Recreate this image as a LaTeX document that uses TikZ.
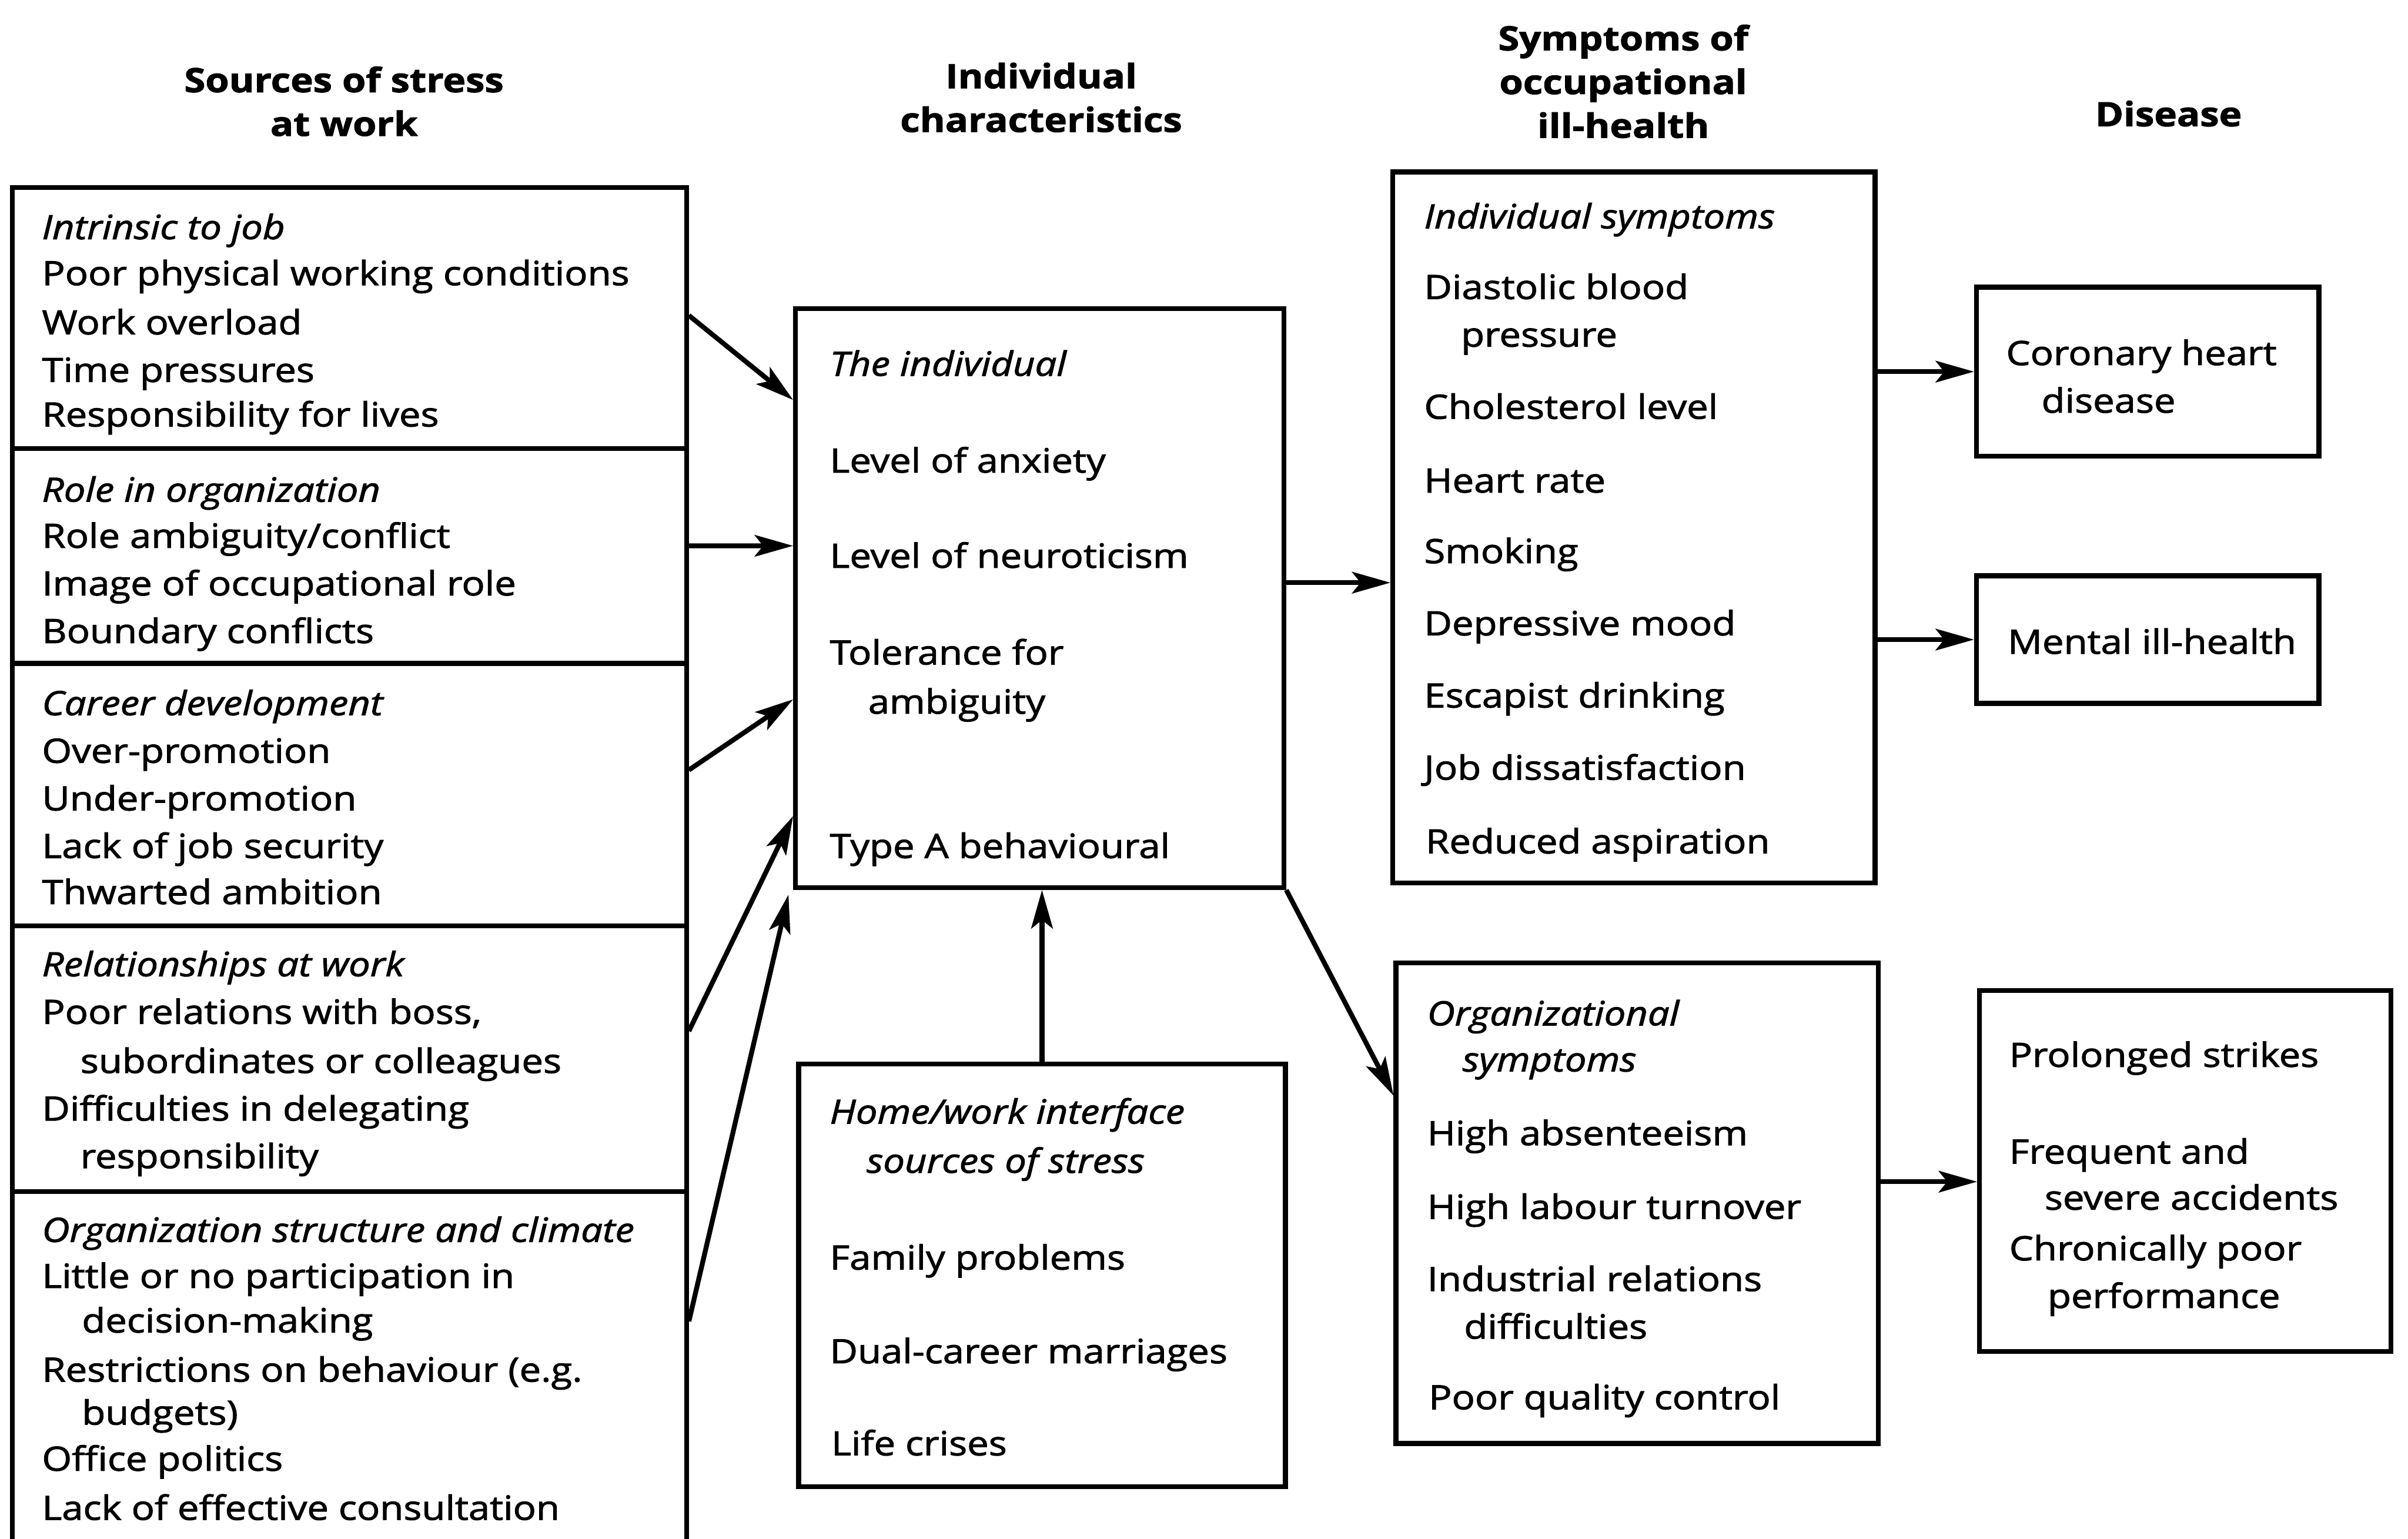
\documentclass[tikz,border=0pt]{standalone}
\usepackage{fontspec}
\setmainfont{Open Sans}[FakeStretch=1.145, FakeBold=1.8]
\usetikzlibrary{arrows.meta,calc,fit}
\newcounter{tc}
\newcommand\tl[3]{\stepcounter{tc}\node[txt] (t\arabic{tc}) at (#1,#2) {#3};}
\newcommand\bx[5]{\node[box, fit={(#2,#3)(#4,#5)}] (#1) {};}
\tikzset{
  txt/.style={anchor=mid west, inner sep=0pt, yshift=-0.06cm, font=\fontsize{12.4}{15}\selectfont},
  hdr/.style={align=center, inner sep=0pt, font=\fontsize{12.4}{16.2}\selectfont\bfseries},
  box/.style={draw, line width=1.8pt, inner sep=0pt},
  arr/.style={line width=1.8pt, -{Stealth[length=5mm,width=2.8mm,inset=1.1mm]}}
}
\begin{document}
\begin{tikzpicture}[x=0.02cm,y=-0.02cm]
\useasboundingbox (0,0) rectangle (1568,1002);
% headers
\node[hdr] (h1) at (224,66) {Sources of stress\\at work};
\node[hdr] (h2) at (678,63.5) {Individual\\characteristics};
\node[hdr] (h3) at (1057,53) {Symptoms of\\occupational\\ill-health};
\node[hdr] (h4) at (1412,74) {Disease};
% boxes
\bx{s1}{8}{122}{447}{292}
\bx{s2}{8}{292}{447}{432}
\bx{s3}{8}{432}{447}{603}
\bx{s4}{8}{603}{447}{776}
\bx{s5}{8}{776}{447}{1005}
\bx{B}{518}{201}{836}{578}
\bx{C}{520}{693}{837}{968}
\bx{D}{907}{112}{1221}{575}
\bx{E}{909}{627}{1223}{940}
\bx{F}{1287}{187}{1510}{297}
\bx{G}{1287}{375}{1510}{458}
\bx{H}{1289}{645}{1557}{880}
% left texts
\tl{27}{148}{\itshape Intrinsic to job}
\tl{27}{178}{Poor physical working conditions}
\tl{27}{210}{Work overload}
\tl{27}{241}{Time pressures}
\tl{27}{270}{Responsibility for lives}
\tl{27}{319}{\itshape Role in organization}
\tl{27}{349}{Role ambiguity/conflict}
\tl{27}{380}{Image of occupational role}
\tl{27}{411}{Boundary conflicts}
\tl{27}{458}{\itshape Career development}
\tl{27}{489}{Over-promotion}
\tl{27}{520}{Under-promotion}
\tl{27}{551}{Lack of job security}
\tl{27}{581}{Thwarted ambition}
\tl{27}{628}{\itshape Relationships at work}
\tl{27}{659}{Poor relations with boss,}
\tl{52}{691}{subordinates or colleagues}
\tl{27}{722}{Difficulties in delegating}
\tl{52}{753}{responsibility}
\tl{27}{801}{\itshape Organization structure and climate}
\tl{27}{831}{Little or no participation in}
\tl{53}{860}{decision-making}
\tl{27}{892}{Restrictions on behaviour (e.g.}
\tl{53}{920}{budgets)}
\tl{27}{950}{Office politics}
\tl{27}{982}{Lack of effective consultation}
% individual
\tl{540}{237}{\itshape The individual}
\tl{540}{300}{Level of anxiety}
\tl{540}{362}{Level of neuroticism}
\tl{540}{425}{Tolerance for}
\tl{565}{457}{ambiguity}
\tl{540}{551}{Type A behavioural}
% home/work
\tl{540}{724}{\itshape Home/work interface}
\tl{564}{756}{\itshape sources of stress}
\tl{540}{819}{Family problems}
\tl{540}{880}{Dual-career marriages}
\tl{541}{940}{Life crises}
% individual symptoms
\tl{927}{141}{\itshape Individual symptoms}
\tl{927}{187}{Diastolic blood}
\tl{951}{218}{pressure}
\tl{927}{265}{Cholesterol level}
\tl{927}{313}{Heart rate}
\tl{927}{359}{Smoking}
\tl{927}{406}{Depressive mood}
\tl{927}{453}{Escapist drinking}
\tl{927}{500}{Job dissatisfaction}
\tl{928}{548}{Reduced aspiration}
% organizational symptoms
\tl{929}{660}{\itshape Organizational}
\tl{952}{690}{\itshape symptoms}
\tl{929}{738}{High absenteeism}
\tl{929}{786}{High labour turnover}
\tl{929}{833}{Industrial relations}
\tl{953}{864}{difficulties}
\tl{930}{910}{Poor quality control}
% disease
\tl{1306}{230}{Coronary heart}
\tl{1329}{261}{disease}
\tl{1307}{418}{Mental ill-health}
\tl{1308}{687}{Prolonged strikes}
\tl{1308}{750}{Frequent and}
\tl{1331}{780}{severe accidents}
\tl{1308}{813}{Chronically poor}
\tl{1333}{844}{performance}
% arrows
\draw[arr] ($(s1.north east)+(0,85)$) -- ($(B.north west)+(0,61)$);
\draw[arr] ($(s2.north east)+(0,65)$) -- ($(B.north west)+(0,156)$);
\draw[arr] ($(s3.north east)+(0,71)$) -- ($(B.north west)+(0,256)$);
\draw[arr] ($(s4.north east)+(0,70)$) -- ($(B.north west)+(0,332)$);
\draw[arr] ($(s5.north east)+(0,86)$) -- ($(B.south west)+(-3,3)$);
\draw[arr] (C.north) -- (C.north |- B.south);
\draw[arr] ($(B.north east)+(0,180)$) -- ($(D.north west)+(0,269)$);
\draw[arr] (B.south east) -- ($(E.north west)+(0,88)$);
\draw[arr] (D.east |- F.west) -- (F.west);
\draw[arr] (D.east |- G.west) -- (G.west);
\coordinate (hin) at ($(H.west)+(0,7)$);
\draw[arr] (E.east |- hin) -- (hin);
\end{tikzpicture}
\end{document}
